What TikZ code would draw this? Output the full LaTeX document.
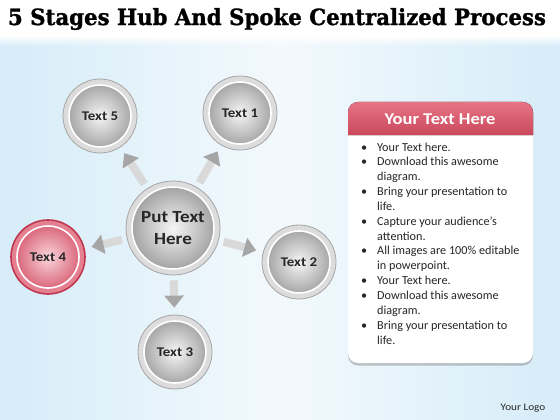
\documentclass[tikz,border=0pt]{standalone}
\usepackage{fontspec}
\setmainfont{Carlito}[FakeStretch=1.12]
\newfontfamily\listfont{Carlito}
\newfontfamily\titlefont{DejaVu Serif}[BoldFeatures={FakeBold=1.2}]
\usetikzlibrary{arrows.meta,shadows,fadings}
\definecolor{bgblue}{RGB}{214,236,248}
\definecolor{rimgray}{RGB}{165,165,165}
\definecolor{ringgray}{RGB}{220,220,220}
\definecolor{ballhi}{RGB}{246,246,246}
\definecolor{balllo}{RGB}{152,152,152}
\definecolor{rimred}{RGB}{192,56,80}
\definecolor{ringred}{RGB}{228,128,144}
\definecolor{redhi}{RGB}{250,214,220}
\definecolor{redlo}{RGB}{212,84,106}
\definecolor{headtop}{RGB}{230,116,132}
\definecolor{headbot}{RGB}{202,72,92}
\begin{document}
\begin{tikzpicture}
[x=1pt,y=-1pt,
 stage/.style n args={5}{circle,inner sep=0pt,minimum size=#1,draw=#2,fill=#3,line width=0.8pt,
   text=black!85,
   path picture={\shadedraw[inner color=#4,outer color=#5,draw=white,line width=1.6pt]
     (path picture bounding box.center) circle ({#1/2-6pt});}},
 graystage/.style={stage={74pt}{rimgray}{ringgray}{ballhi}{balllo},
   font=\bfseries\fontsize{13.3}{16}\selectfont},
 redstage/.style={stage={74pt}{rimred}{ringred}{redhi}{redlo},line width=1.6pt,
   font=\bfseries\fontsize{13.3}{16}\selectfont},
 hubstage/.style={stage={94pt}{rimgray}{ringgray}{ballhi}{balllo},align=center,
   font=\bfseries\fontsize{17}{22}\selectfont},
 spoke/.style={line width=8pt,draw=gray!30,-{Triangle[width=19pt,length=12pt,color=gray!70]},
   shorten <=5pt,shorten >=7pt},
 itemline/.style={anchor=base west,inner sep=0pt,text=black!85,
   font=\listfont\fontsize{12.2}{14}\selectfont}]
%% background
\shade[left color=bgblue,right color=bgblue,middle color=bgblue!30] (0,0) rectangle (560,420);
\fill[white] (0,0) rectangle (560,36);
\fill[white,path fading=south] (0,36) rectangle (560,46);
\useasboundingbox (0,0) rectangle (560,420);
%% title
\node (title) at (277,19)
  {\resizebox{538pt}{17pt}{\titlefont\bfseries 5 Stages Hub And Spoke Centralized Process}};
%% nodes or circles
\node[hubstage] (hub) at (173,228) {Put Text\\Here};
\foreach \nodename/\x/\y/\txt in {
  t1/240/113/Text 1, t2/299/262/Text 2,
  t3/175/352/Text 3, t5/100/116/Text 5}
{
  \node[graystage] (\nodename) at (\x,\y) {\txt};
}
\node[redstage] (t4) at (48,257) {Text 4};
%% edges or arrows
\path
\foreach \startnode/\endnode in {hub/t1, hub/t2, hub/t3, hub/t4, hub/t5} {
  (\startnode) edge[spoke] (\endnode)
};
%% text panel
\fill[white,rounded corners=10pt,
  drop shadow={shadow xshift=0pt,shadow yshift=-2.5pt,opacity=0.45}]
  (348,102) rectangle (533,363);
\fill[top color=headtop,bottom color=headbot]
  (348,135) [rounded corners=10pt]-- (348,102) -- (533,102) [sharp corners]-- (533,135) -- cycle;
\node[text=white,font=\bfseries\fontsize{16.5}{18}\selectfont] (head) at (440,119) {Your Text Here};
\foreach \n/\b/\txt in {
  1/1/Your Text here., 2/1/Download this awesome, 3/0/diagram.,
  4/1/Bring your presentation to, 5/0/life., 6/1/Capture your audience’s,
  7/0/attention., 8/1/All images are 100\% editable, 9/0/in powerpoint.,
  10/1/Your Text here., 11/1/Download this awesome, 12/0/diagram.,
  13/1/Bring your presentation to, 14/0/life.}
{
  \node[itemline] (l\n) at (377,{151+(\n-1)*14.85})
    {\ifnum\b=1\llap{•\hspace{10pt}}\fi\txt};
}
%% logo
\node[text=black!85,font=\fontsize{10}{12}\selectfont] (logo) at (523,408) {Your Logo};
\end{tikzpicture}
\end{document}
